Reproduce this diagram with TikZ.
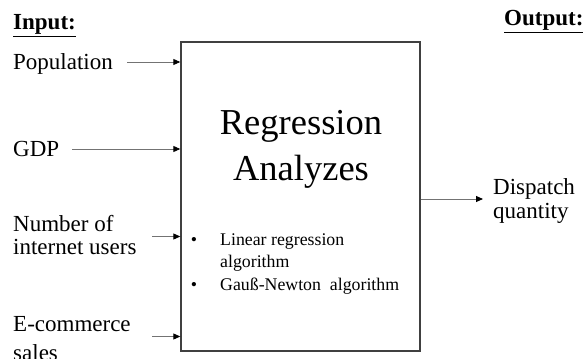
\documentclass[tikz,border=0pt]{standalone}
\usepackage{fontspec}
\setmainfont{Liberation Serif}
\usetikzlibrary{arrows.meta}
\tikzset{
  lbl/.style={anchor=base west, inner sep=0pt, font=\fontsize{23}{25}\selectfont},
  ttl/.style={anchor=base west, inner sep=0pt, font=\fontsize{23}{25}\selectfont\bfseries},
  small/.style={anchor=base west, inner sep=0pt, font=\fontsize{17.8}{22.5}\selectfont},
  big/.style={anchor=base, inner sep=0pt, font=\fontsize{36.5}{45}\selectfont},
  conn/.style={draw=black!55, line width=0.9pt, -{Triangle[length=7pt,width=6pt,color=black,fill=black]}},
  bigbox/.style={draw=black!75, line width=1.4pt, minimum width=239pt, minimum height=309pt, inner sep=0pt},
}
\begin{document}
\begin{tikzpicture}[x=1pt,y=-1pt]
\useasboundingbox (0,0) rectangle (585,358);
% titles
\node[ttl] (tin) at (13,30) {\underline{Input:}};
\node[ttl] (tout) at (504,26) {\underline{Output:}};
% box
\node[bigbox] (box) at (300.5,196.5) {};
\node[big] (reg) at (301,135) {Regression};
\node[big] (ana) at (301,180) {Analyzes};
\node[small] (b1) at (220,245) {Linear regression};
\node[small] (b1b) at (220,267) {algorithm};
\node[small] (b2) at (220,290) {Gauß-Newton\ \ algorithm};
\node[small, anchor=base] (d1) at (194,245) {•};
\node[small, anchor=base] (d2) at (194,290) {•};
% inputs
\node[lbl] (pop) at (13,69.5) {Population};
\node[lbl] (gdp) at (13,157) {GDP};
\node[lbl] (num) at (13,231) {Number of};
\node[lbl] (numb) at (13,254.5) {internet users};
\node[lbl] (ecom) at (13,331) {E-commerce};
\node[lbl] (ecomb) at (13,360) {sales};
\coordinate (spop) at (127,62);
\coordinate (sgdp) at (72,149);
\coordinate (snum) at (152,236.5);
\coordinate (secom) at (152,336.5);
\draw[conn] (spop) -- (spop -| box.west);
\draw[conn] (sgdp) -- (sgdp -| box.west);
\draw[conn] (snum) -- (snum -| box.west);
\draw[conn] (secom) -- (secom -| box.west);
% output
\node[lbl] (disp) at (493,194) {Dispatch};
\node[lbl] (dispb) at (493,218) {quantity};
\coordinate (eout) at (483,199);
\draw[conn] (eout -| box.east) -- (eout);
\end{tikzpicture}
\end{document}
